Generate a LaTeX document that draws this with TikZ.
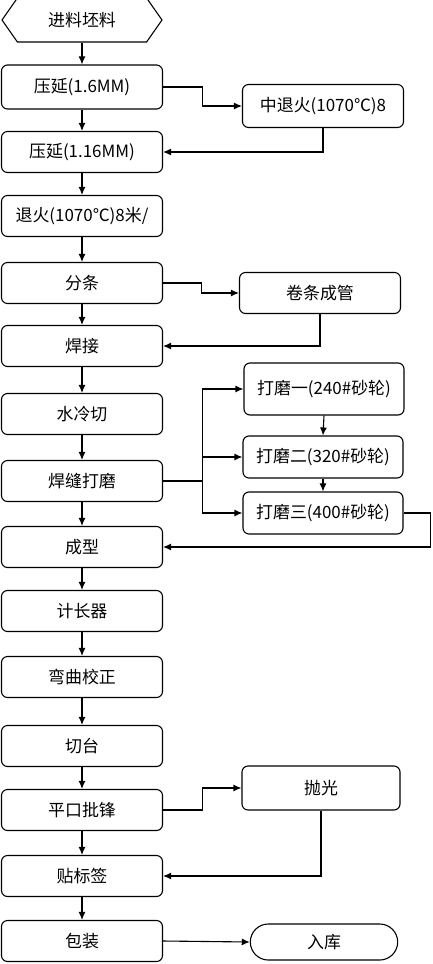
\documentclass[tikz,border=0pt]{standalone}
\usepackage{fontspec}
\setmainfont{Noto Sans CJK SC}
\usetikzlibrary{arrows.meta,shapes.symbols,shapes.misc}
\begin{document}
\begin{tikzpicture}[x=1bp,y=-1bp,line width=1.1bp,
		font=\fontsize{17}{20}\selectfont,
		arr/.style={-{Latex[length=8bp,width=7bp]}}]
	\tikzstyle{etape}=[draw,rounded corners=6bp,minimum width=161bp,minimum height=41bp,inner sep=1bp]
	\tikzstyle{annexe}=[etape,minimum width=161bp,minimum height=43bp]
	\useasboundingbox (0,0) rectangle (432,964);
	\node[draw,signal,signal to=west and east,signal pointer angle=110,minimum width=160bp,minimum height=44bp,inner sep=1bp] (debut) at (82,20) {进料坯料}; % entree
	\node[etape,minimum height=44bp] (lam1) at (82,87) {压延(1.6MM)};
	\node[annexe] (recuit1) at (323,106) {中退火(1070℃)8};
	\node[etape] (lam2) at (82,152) {压延(1.16MM)};
	\node[etape] (recuit2) at (82,216) {退火(1070℃)8米/};
	\node[etape] (fente) at (82,283) {分条};
	\node[annexe,minimum height=41bp] (tube) at (320,293) {卷条成管};
	\node[etape] (soudure) at (82,346) {焊接};
	\node[etape] (coupe) at (82,414) {水冷切};
	\node[etape] (meulage) at (82,481) {焊缝打磨};
	\node[annexe,minimum width=160bp,minimum height=52bp] (m1) at (324,389) {打磨一(240\#砂轮)}; % meules
	\node[annexe,minimum width=160bp,minimum height=42bp] (m2) at (323,457) {打磨二(320\#砂轮)};
	\node[annexe,minimum width=160bp,minimum height=42bp] (m3) at (323,513) {打磨三(400\#砂轮)};
	\node[etape] (formage) at (82,547) {成型};
	\node[etape] (compteur) at (82,611) {计长器};
	\node[etape] (redress) at (82,677) {弯曲校正};
	\node[etape] (table) at (82,746) {切台};
	\node[etape] (ebavure) at (82,810) {平口批锋};
	\node[annexe,minimum width=158bp,minimum height=44bp] (polish) at (321,788) {抛光};
	\node[etape] (etiquette) at (82,876) {贴标签};
	\node[etape] (emballage) at (82,941) {包装};
	\node[draw,rounded rectangle,minimum width=154bp,minimum height=36bp] (stock) at (324,942) {入库}; % sortie
	% colonne principale
	\foreach \a/\b in {debut/lam1,lam1/lam2,lam2/recuit2,recuit2/fente,fente/soudure,soudure/coupe,coupe/meulage,meulage/formage,formage/compteur,compteur/redress,redress/table,table/ebavure,ebavure/etiquette,etiquette/emballage}
		\draw[arr] (\a.south) -- (\b.north);
	% branches
	\draw[arr] (lam1.east) -- ++(39,0) |- (recuit1.west);
	\draw[arr] (recuit1.south) |- (lam2.east);
	\draw[arr] (fente.east) -- ++(38,0) |- (tube.west);
	\draw[arr] (tube.south) |- (soudure.east);
	\draw (meulage.east) -- ++(39,0) coordinate (fourche);
	\foreach \m in {m1,m2,m3}
		\draw[arr] (fourche) |- (\m.west);
	\draw[arr] (m1.south) -- (m2.north);
	\draw[arr] (m2.south) -- (m3.north);
	\draw[arr] (m3.east) -- ++(27,0) |- (formage.east);
	\draw[arr] (ebavure.east) -- ++(39,0) |- (polish.west);
	\draw[arr] (polish.south) |- (etiquette.east);
	\draw[arr] (emballage.east) -- (stock.west);
\end{tikzpicture}
\end{document}
